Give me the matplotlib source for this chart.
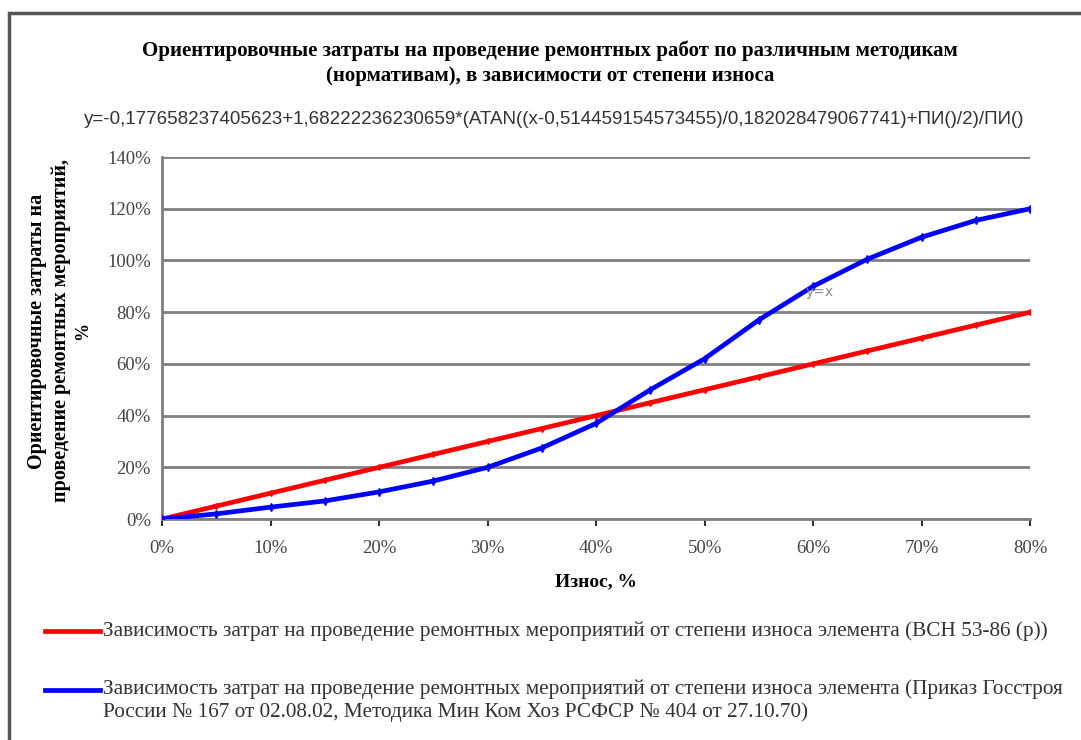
import matplotlib.pyplot as plt
from matplotlib.lines import Line2D
from matplotlib.patches import Rectangle
from matplotlib.ticker import PercentFormatter

# Wear, %  (x) and cost shares (y) at 5% steps
iznos = [0.00, 0.05, 0.10, 0.15, 0.20, 0.25, 0.30, 0.35, 0.40,
         0.45, 0.50, 0.55, 0.60, 0.65, 0.70, 0.75, 0.80]
vsn = [0.00, 0.05, 0.10, 0.15, 0.20, 0.25, 0.30, 0.35, 0.40,
       0.45, 0.50, 0.55, 0.60, 0.65, 0.70, 0.75, 0.80]
gosstroy = [0.00, 0.02, 0.046, 0.07, 0.105, 0.147, 0.20, 0.275, 0.37,
            0.50, 0.62, 0.77, 0.90, 1.005, 1.09, 1.155, 1.20]

title = ("Ориентировочные затраты на проведение ремонтных работ по различным методикам\n"
         "(нормативам), в зависимости от степени износа")
formula = ("y=-0,177658237405623+1,68222236230659*(ATAN((x-0,514459154573455)/"
           "0,182028479067741)+ПИ()/2)/ПИ()")
label_vsn = ("Зависимость затрат на проведение ремонтных мероприятий от степени "
             "износа элемента (ВСН 53-86 (р))")
label_gos = ("Зависимость затрат на проведение ремонтных мероприятий от степени "
             "износа элемента (Приказ Госстроя\n"
             "России № 167 от 02.08.02, Методика Мин Ком Хоз РСФСР № 404 от 27.10.70)")

serif = "Liberation Serif"
grey = "#808080"

fig = plt.figure(figsize=(10.81, 7.4), dpi=100)
ax = fig.add_axes([0.1499, 0.2986, 0.803, 0.4892])

# chart border (only top and left edges are in the frame)
fig.add_artist(Rectangle((9 / 1081, -0.1), 1.2, 1.1 - 13 / 740,
                         transform=fig.transFigure, fill=False,
                         edgecolor="#555555", linewidth=2.5))

ax.plot(iznos, vsn, color="#ff0000", linewidth=3.4, marker="d",
        markersize=3, zorder=3)
ax.plot(iznos, gosstroy, color="#0000ff", linewidth=3.4, marker="d",
        markersize=4, zorder=4)

ax.set_xlim(0, 0.8)
ax.set_ylim(0, 1.4)
ax.set_xticks([i / 10 for i in range(9)])
ax.set_yticks([i / 5 for i in range(8)])
ax.xaxis.set_major_formatter(PercentFormatter(1.0, decimals=0))
ax.yaxis.set_major_formatter(PercentFormatter(1.0, decimals=0))
ax.yaxis.grid(True, color=grey, linewidth=2)
ax.set_axisbelow(True)
for s in ("top", "right"):
    ax.spines[s].set_visible(False)
for s in ("left", "bottom"):
    ax.spines[s].set_color(grey)
    ax.spines[s].set_linewidth(2)
ax.tick_params(colors="#333333", labelcolor="#444444", length=5, width=1.5,
               labelsize=13.5, pad=10)
for lbl in ax.get_xticklabels() + ax.get_yticklabels():
    lbl.set_family(serif)
ax.tick_params(axis="y", length=0, pad=8)

ax.text(0.593, 0.862, "y=x", color="#888888", fontsize=10, zorder=5)

ax.set_xlabel("Износ, %", family=serif, fontweight="bold", fontsize=14,
              labelpad=12)
ylab_y = 1 - 331 / 740
fig.text(37 / 1081, ylab_y, "Ориентировочные затраты на", rotation=90,
         family=serif, fontweight="bold", fontsize=14.5, ha="center", va="center")
fig.text(61 / 1081, ylab_y, "проведение ремонтных мероприятий,", rotation=90,
         family=serif, fontweight="bold", fontsize=14.5, ha="center", va="center")
fig.text(83 / 1081, ylab_y, "%", rotation=90, family=serif, fontweight="bold",
         fontsize=13, ha="center", va="center")

fig.text(550 / 1081, 0.915, title, family=serif, fontweight="bold", fontsize=15,
         ha="center", va="center", linespacing=1.35)
fig.text(554 / 1081, 0.838, formula, family="Liberation Sans", fontsize=13.5,
         ha="center", va="center", color="#333333")

# legend drawn by hand
fig.add_artist(Line2D([45 / 1081, 100 / 1081], [1 - 631 / 740] * 2,
                      color="#ff0000", linewidth=3.4))
fig.text(103 / 1081, 1 - 631 / 740, label_vsn, family=serif, fontsize=15.3,
         va="center", color="#333333")
fig.add_artist(Line2D([45 / 1081, 100 / 1081], [1 - 690 / 740] * 2,
                      color="#0000ff", linewidth=3.4))
fig.text(103 / 1081, 1 - 690 / 740 + 0.015, label_gos, family=serif,
         fontsize=15.3, va="top", color="#333333", linespacing=1.25)

fig.savefig("out.png", dpi=100, facecolor="white")
